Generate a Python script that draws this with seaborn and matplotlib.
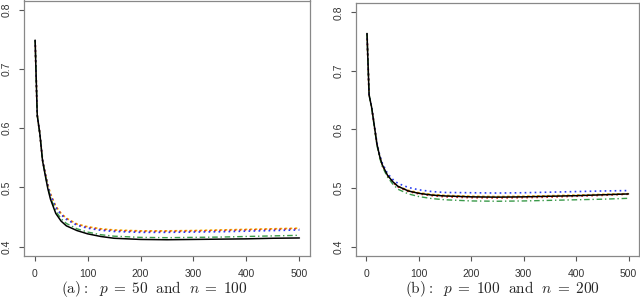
import matplotlib
matplotlib.use("Agg")
import matplotlib.pyplot as plt
import seaborn as sns
import numpy as np
import pandas as pd

# iterations at which the curves are read
iters = [1, 5, 10, 15, 20, 25, 30, 40, 50, 60, 80, 100, 125, 150,
         200, 250, 300, 350, 400, 450, 500]

# panel (a): p = 50, n = 100
a_black = [0.749, 0.622, 0.590, 0.545, 0.521, 0.498, 0.480, 0.456, 0.443, 0.435, 0.427,
           0.4215, 0.417, 0.414, 0.412, 0.4115, 0.412, 0.4125, 0.413, 0.414, 0.4145]
a_orange = [0.749, 0.622, 0.591, 0.547, 0.525, 0.505, 0.489, 0.468, 0.456, 0.448, 0.438,
            0.4335, 0.430, 0.428, 0.4265, 0.4265, 0.427, 0.428, 0.429, 0.430, 0.431]
a_red = [0.749, 0.622, 0.591, 0.547, 0.524, 0.504, 0.488, 0.467, 0.455, 0.447, 0.437,
         0.4325, 0.429, 0.427, 0.4255, 0.4255, 0.426, 0.427, 0.428, 0.429, 0.430]
a_blue = [0.749, 0.622, 0.591, 0.547, 0.524, 0.503, 0.487, 0.466, 0.454, 0.446, 0.436,
          0.431, 0.4275, 0.4255, 0.424, 0.424, 0.4245, 0.425, 0.426, 0.427, 0.428]
a_green = [0.749, 0.622, 0.590, 0.546, 0.522, 0.500, 0.483, 0.460, 0.447, 0.439, 0.430,
           0.4245, 0.420, 0.4175, 0.4155, 0.415, 0.4155, 0.416, 0.417, 0.418, 0.419]

# panel (b): p = 100, n = 200
b_black = [0.764, 0.659, 0.637, 0.606, 0.575, 0.555, 0.540, 0.522, 0.511, 0.503, 0.495,
           0.491, 0.488, 0.4865, 0.485, 0.4845, 0.485, 0.486, 0.487, 0.4885, 0.490]
b_orange = [0.764, 0.659, 0.637, 0.606, 0.575, 0.555, 0.540, 0.522, 0.511, 0.503, 0.496,
            0.492, 0.489, 0.4875, 0.486, 0.4855, 0.486, 0.487, 0.488, 0.4893, 0.4905]
b_red = [0.764, 0.659, 0.637, 0.606, 0.575, 0.555, 0.540, 0.521, 0.510, 0.502, 0.494,
         0.490, 0.487, 0.485, 0.4835, 0.483, 0.4835, 0.4845, 0.486, 0.4875, 0.4895]
b_blue = [0.764, 0.659, 0.637, 0.607, 0.577, 0.557, 0.543, 0.525, 0.515, 0.508, 0.501,
          0.497, 0.494, 0.4925, 0.492, 0.4915, 0.492, 0.493, 0.494, 0.495, 0.4957]
b_green = [0.764, 0.659, 0.636, 0.604, 0.573, 0.552, 0.537, 0.519, 0.507, 0.498, 0.490,
           0.4855, 0.482, 0.480, 0.478, 0.4775, 0.478, 0.479, 0.480, 0.481, 0.4825]

x_ticks = [0, 100, 200, 300, 400, 500]
y_ticks = [0.4, 0.5, 0.6, 0.7, 0.8]
captions = [r"$\mathrm{(a){:}}\ \ p\;=\;50\ \ \mathrm{and}\ \ n\;=\;100$",
            r"$\mathrm{(b){:}}\ \ p\;=\;100\ \ \mathrm{and}\ \ n\;=\;200$"]

sns.set_style("white")
plt.rcParams["font.family"] = ["Liberation Sans", "DejaVu Sans"]
plt.rcParams["mathtext.fontset"] = "cm"

styles = [
    ("orange", "#f0a800", (0, (1.5, 1.5)), 1.2),
    ("red", "#e03020", (0, (1, 2)), 1.2),
    ("blue", "#2a3ff0", (0, (1, 2)), 1.2),
    ("green", "#3a9a4a", (0, (4, 2, 1, 2)), 1.0),
    ("black", "black", "-", 1.1),
]

fig = plt.figure(figsize=(6.4, 3.06), dpi=100)
ax_a = fig.add_axes([24 / 640, 1 - 256 / 306, 286 / 640, 255.5 / 306])
ax_b = fig.add_axes([356 / 640, 1 - 256 / 306, 283 / 640, 253 / 306])

panels = [
    (ax_a, {"orange": a_orange, "red": a_red, "blue": a_blue, "green": a_green, "black": a_black}),
    (ax_b, {"orange": b_orange, "red": b_red, "blue": b_blue, "green": b_green, "black": b_black}),
]

for ax, series in panels:
    for name, color, ls, lw in styles:
        sns.lineplot(x=iters, y=series[name], ax=ax, color=color, linestyle=ls,
                     linewidth=lw, estimator=None)
    ax.set_xlim(-20, 520)
    ax.set_ylim(0.384, 0.816)
    ax.set_xticks(x_ticks)
    ax.set_yticks(y_ticks)
    ax.set_xticklabels([str(t) for t in x_ticks])
    ax.set_yticklabels([f"{t:.1f}" for t in y_ticks], rotation=90, va="center")
    ax.tick_params(axis="both", length=3.3, width=0.8, color="#555555",
                   labelsize=7.5, labelcolor="#333333", direction="out",
                   bottom=True, left=True)
    ax.tick_params(axis="x", pad=6.0)
    ax.tick_params(axis="y", pad=5.6)
    for sp in ax.spines.values():
        sp.set_color("#888888")
        sp.set_linewidth(0.9)
    ax.set_xlabel("")
    ax.set_ylabel("")

fig.text(154.5 / 640, 1 - 293 / 306, captions[0], ha="center", va="baseline", fontsize=11)
fig.text(502 / 640, 1 - 293 / 306, captions[1], ha="center", va="baseline", fontsize=11)

fig.savefig("out.png", dpi=100)
